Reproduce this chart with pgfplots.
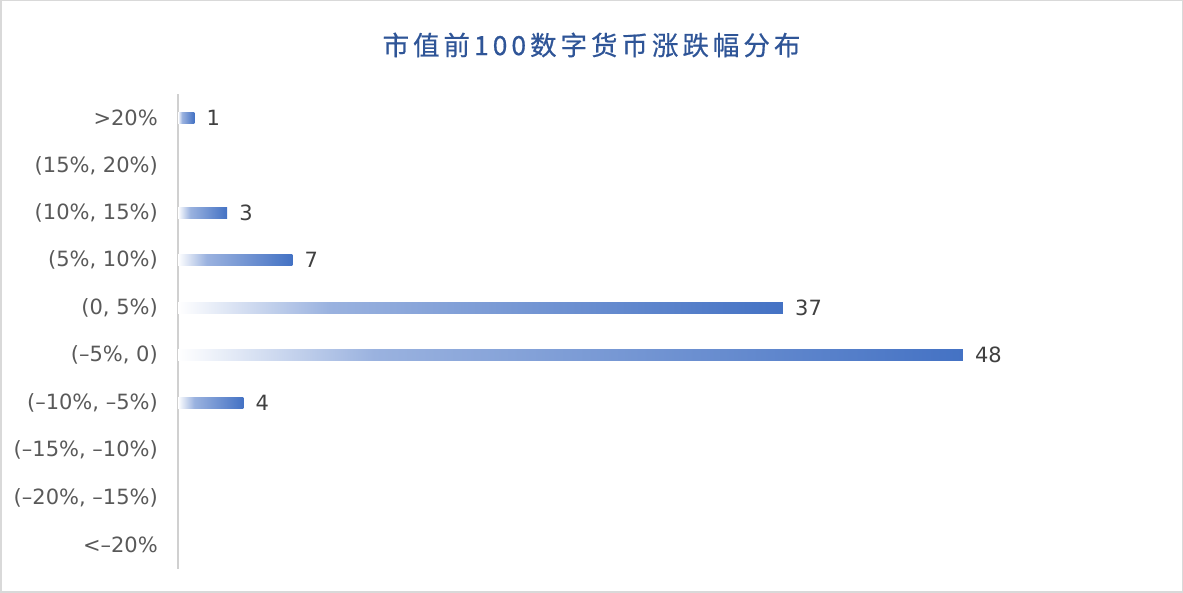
\documentclass[border=0pt]{standalone}
\usepackage{fontspec}
\usepackage{pgfplots}
\pgfplotsset{compat=1.18}
\setmainfont{DejaVu Sans}
\newfontfamily\cjk{Noto Sans CJK SC}[LetterSpace=15, FakeBold=0.6]
\definecolor{barblue}{HTML}{4472C4}
\definecolor{barmid}{HTML}{9AB2DF}
\definecolor{titlecol}{HTML}{2F5597}
\definecolor{framegray}{HTML}{D9D9D9}
\definecolor{axisgray}{HTML}{D0D0D0}
\definecolor{ticktext}{HTML}{595959}
\definecolor{valtext}{HTML}{404040}
\pgfdeclarehorizontalshading{barshade}{100bp}{color(0bp)=(white); color(25bp)=(white); color(37.5bp)=(barmid); color(75bp)=(barblue); color(100bp)=(barblue)}
\begin{document}
\begin{tikzpicture}
\useasboundingbox (0,0) rectangle (1183pt,593pt);
\draw[framegray, line width=1.5pt] (0.75pt,0.75pt) rectangle (1182.25pt,592.25pt);
\node[text=titlecol, font=\cjk\fontsize{26.5}{30}\selectfont] at (591.5pt,548pt) {市值前100数字货币涨跌幅分布};
\begin{axis}[
  at={(178pt,24.3pt)}, anchor=south west,
  scale only axis, width=981pt, height=474.4pt,
  xmin=0, xmax=60, ymin=-0.5, ymax=9.5,
  axis x line=none,
  axis y line*=left,
  axis line style={draw=axisgray, line width=2.5pt},
  xtick=\empty,
  ytick={0,1,2,3,4,5,6,7,8,9},
  yticklabels={{<–20\%},{(–20\%, –15\%)},{(–15\%, –10\%)},{(–10\%, –5\%)},{(–5\%, 0)},{(0, 5\%)},{(5\%, 10\%)},{(10\%, 15\%)},{(15\%, 20\%)},{>20\%}},
  major tick length=0pt,
  yticklabel style={font=\fontsize{21}{24}\selectfont, text=ticktext, inner sep=0pt, anchor=east, xshift=-20pt},
  /pgf/number format/assume math mode=true,
  xbar, bar width=11pt,
  every axis plot/.append style={draw=none, shading=barshade, bar shift=0pt},
  nodes near coords,
  nodes near coords align={horizontal},
  every node near coord/.append style={font=\fontsize{21}{24}\selectfont, text=valtext, inner sep=0pt, anchor=west, xshift=12pt},
  clip=false,
]
\addplot coordinates {(1,9)};
\addplot coordinates {(3,7)};
\addplot coordinates {(7,6)};
\addplot coordinates {(37,5)};
\addplot coordinates {(48,4)};
\addplot coordinates {(4,3)};
\end{axis}
\end{tikzpicture}
\end{document}
